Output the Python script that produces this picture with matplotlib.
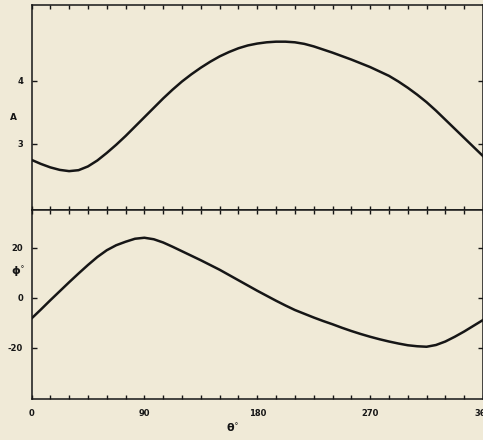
import numpy as np
import matplotlib
matplotlib.use('Agg')
import matplotlib.pyplot as plt
from matplotlib.ticker import MultipleLocator, FixedLocator

plt.rcParams['axes.unicode_minus'] = False

# theta (deg), read every 7.5 degrees
theta = np.arange(0, 360.1, 7.5)
# amplitude A
amp = [2.74, 2.675, 2.62, 2.58, 2.56, 2.575, 2.635, 2.73, 2.85, 2.98, 3.12, 3.27,
       3.42, 3.57, 3.72, 3.86, 3.99, 4.105, 4.21, 4.305, 4.39, 4.46, 4.52, 4.565,
       4.595, 4.615, 4.625, 4.625, 4.615, 4.59, 4.55, 4.50, 4.45, 4.395, 4.34, 4.28,
       4.22, 4.15, 4.08, 3.99, 3.89, 3.78, 3.66, 3.525, 3.38, 3.235, 3.09, 2.945, 2.80]
# phase phi (deg)
phi = [-8.3, -4.7, -1.0, 2.6, 6.2, 9.7, 13.1, 16.3, 19.0, 21.0, 22.4, 23.6,
       24.0, 23.4, 22.1, 20.4, 18.6, 16.8, 15.0, 13.1, 11.2, 9.1, 7.0, 4.9,
       2.8, 0.8, -1.2, -3.1, -4.9, -6.4, -7.9, -9.3, -10.6, -12.0, -13.3, -14.5,
       -15.6, -16.6, -17.5, -18.3, -19.0, -19.4, -19.6, -18.9, -17.5, -15.6, -13.5, -11.2, -8.9]

xticks = [0, 90, 180, 270, 360]
xlabels = ['0', '90', '180', '270', '360']
amp_ticks = [3, 4]
phi_ticks = [-20, 0, 20]

bg = '#f0ead7'
ink = '#161616'
W, H = 483, 440
fig = plt.figure(figsize=(W / 100, H / 100), dpi=100, facecolor=bg)

left = 31.5 / W
width = 1 - left
ax1 = fig.add_axes([left, 1 - 210 / H, width, 205 / H], facecolor=bg)
ax2 = fig.add_axes([left, 1 - 399 / H, width, 189 / H], facecolor=bg)

ax1.plot(theta, amp, color=ink, lw=1.8, solid_joinstyle='round')
ax2.plot(theta, phi, color=ink, lw=1.8, solid_joinstyle='round')

ax1.set_ylim(1.94, 5.21)
ax2.set_ylim(-40.5, 35.1)
ax1.yaxis.set_major_locator(FixedLocator(amp_ticks))
ax2.yaxis.set_major_locator(FixedLocator(phi_ticks))

for ax in (ax1, ax2):
    ax.set_xlim(0, 360)
    ax.xaxis.set_major_locator(FixedLocator(xticks))
    ax.xaxis.set_minor_locator(MultipleLocator(15))
    for s in ax.spines.values():
        s.set_color(ink)
        s.set_linewidth(1.1)
    ax.tick_params(axis='x', which='both', direction='in', top=True, bottom=True,
                   length=3, width=1.0, color=ink)
    ax.tick_params(axis='y', direction='in', left=True, right=True,
                   length=3.5, width=1.0, color=ink, pad=6)
    for lab in ax.get_yticklabels():
        lab.set_fontsize(6)
        lab.set_fontweight('bold')
        lab.set_color(ink)

ax1.tick_params(axis='x', labelbottom=False)
ax2.set_xticklabels(xlabels, fontsize=6, fontweight='bold', color=ink)
ax2.tick_params(axis='x', pad=7)

fig.text(13 / W, 1 - 117 / H, 'A', fontsize=6.5, fontweight='bold', color=ink,
         ha='center', va='center')
fig.text(18 / W, 1 - 272 / H, r'$\mathbf{\phi}^{\circ}$', fontsize=8, color=ink,
         ha='center', va='center')
fig.text(233 / W, 1 - 428 / H, r'$\mathbf{\theta}^{\circ}$', fontsize=8, color=ink,
         ha='center', va='center')

fig.savefig('out.png', dpi=100, facecolor=bg)
